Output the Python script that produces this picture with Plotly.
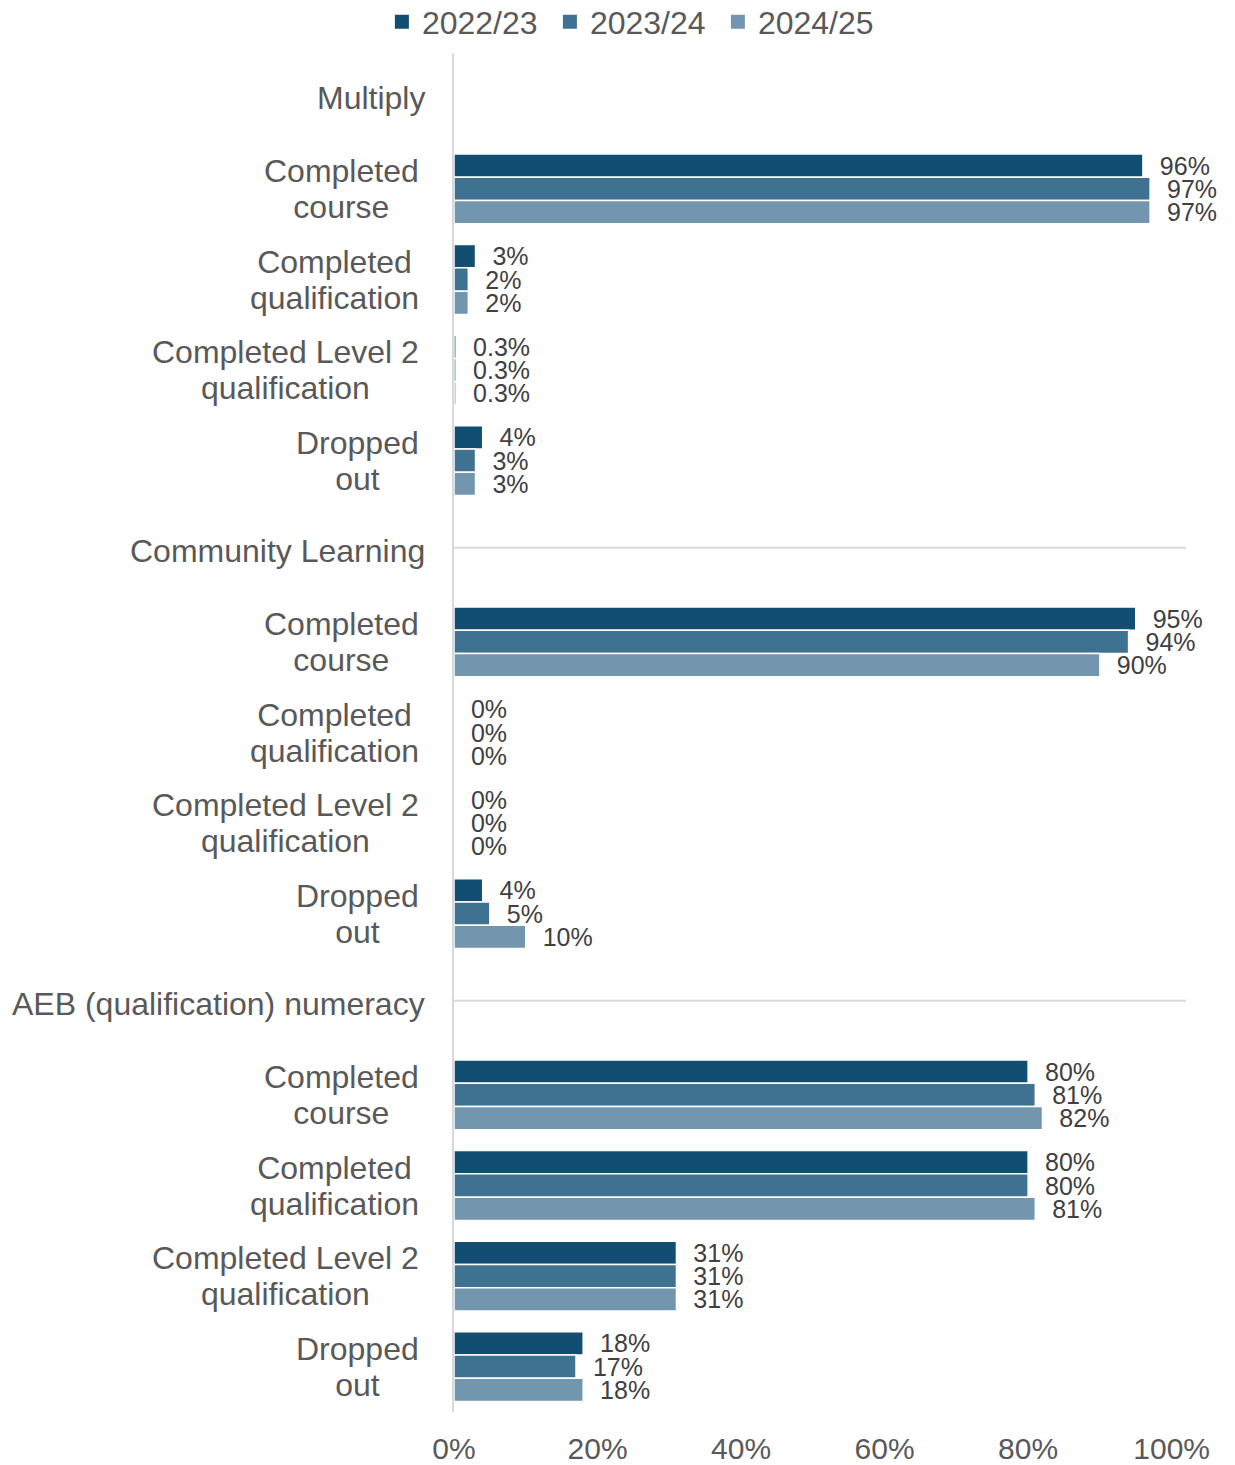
import plotly.graph_objects as go

# Learner outcomes by programme and year
programmes = ["Multiply", "Community Learning", "AEB (qualification) numeracy"]
measures = [
    ["Completed", "course"],
    ["Completed", "qualification"],
    ["Completed Level 2", "qualification"],
    ["Dropped", "out"],
]
years = ["2022/23", "2023/24", "2024/25"]

# Percentages, one list per year, in programme order then measure order
values_2022_23 = [96, 3, 0.3, 4, 95, 0, 0, 4, 80, 80, 31, 18]
values_2023_24 = [97, 2, 0.3, 3, 94, 0, 0, 5, 81, 80, 31, 17]
values_2024_25 = [97, 2, 0.3, 3, 90, 0, 0, 10, 82, 81, 31, 18]

x_ticks = [0, 20, 40, 60, 80, 100]
x_tick_labels = ["0%", "20%", "40%", "60%", "80%", "100%"]

colors = ["#124E71", "#3F7191", "#7196AE"]
series = [values_2022_23, values_2023_24, values_2024_25]

FONT = "Liberation Sans, Arial, sans-serif"
GREY = "#595959"
LABEL_PX = 32

# Build row layout: a header row per programme, followed by its measures
row_labels = []
row_is_header = []
for p in programmes:
    row_labels.append(p)
    row_is_header.append(True)
    for m in measures:
        # tighter line spacing: base font smaller, each line enlarged
        row_labels.append(
            "<br>".join(f"<span style='font-size:{LABEL_PX}px'>{ln}</span>" for ln in m)
        )
        row_is_header.append(False)
rows = list(range(len(row_labels)))


def expand(vals):
    out = []
    it = iter(vals)
    for h in row_is_header:
        out.append(None if h else next(it))
    return out


def fmt(v):
    if v is None:
        return ""
    return "\u00a0\u00a0" + f"{v:g}" + "%"


fig = go.Figure()
for name, vals, col in zip(years, series, colors):
    xv = expand(vals)
    fig.add_trace(
        go.Bar(
            name=name,
            y=rows,
            x=xv,
            orientation="h",
            marker=dict(color=col, line=dict(color="white", width=1.5)),
            text=[fmt(v) for v in xv],
            textposition="outside",
            constraintext="none",
            cliponaxis=False,
            textfont=dict(family=FONT, size=25, color="#404040"),
            hoverinfo="skip",
            showlegend=False,
        )
    )

# Legend entries with square swatches
for name, col in zip(years, colors):
    fig.add_trace(
        go.Scatter(
            x=[None],
            y=[None],
            mode="markers",
            name=name,
            marker=dict(symbol="square", size=14, color=col),
            hoverinfo="skip",
        )
    )

# Row labels on the left
annotations = []
for r, lab, h in zip(rows, row_labels, row_is_header):
    annotations.append(
        dict(
            x=-0.0369 if h else -0.0451,
            xref="paper",
            y=r,
            yref="y",
            text=lab,
            showarrow=False,
            xanchor="right",
            yanchor="middle",
            align="center",
            font=dict(family=FONT, size=LABEL_PX if h else 28, color=GREY),
        )
    )

# Separator lines at the programme headers (except the first)
shapes = []
for r, h in zip(rows, row_is_header):
    if h and r != 0:
        shapes.append(
            dict(
                type="line",
                xref="x",
                yref="y",
                x0=0,
                x1=102,
                y0=r - 0.04,
                y1=r - 0.04,
                line=dict(color="#D9D9D9", width=2),
                layer="below",
            )
        )

fig.update_layout(
    width=1235,
    height=1465,
    margin=dict(l=454, r=49, t=53, b=53, autoexpand=False),
    paper_bgcolor="white",
    plot_bgcolor="white",
    barmode="group",
    bargap=0.23,
    bargroupgap=0,
    font=dict(family=FONT, color=GREY),
    showlegend=True,
    legend=dict(
        orientation="h",
        x=-0.0985,
        xanchor="left",
        yref="container",
        y=1 - 22 / 1465,
        yanchor="middle",
        font=dict(family=FONT, size=32, color=GREY),
        traceorder="normal",
        entrywidth=123,
        bgcolor="rgba(0,0,0,0)",
    ),
    xaxis=dict(
        range=[0, 102],
        tickmode="array",
        tickvals=x_ticks,
        ticktext=x_tick_labels,
        showgrid=False,
        zeroline=False,
        showline=False,
        ticks="",
        ticklabelstandoff=16,
        tickfont=dict(family=FONT, size=30, color=GREY),
    ),
    yaxis=dict(
        range=[len(rows) - 0.5, -0.5],
        showticklabels=False,
        showgrid=False,
        zeroline=False,
        showline=True,
        linecolor="#D9D9D9",
        linewidth=2,
        ticks="",
    ),
    annotations=annotations,
    shapes=shapes,
)

fig.write_html("out.html")
